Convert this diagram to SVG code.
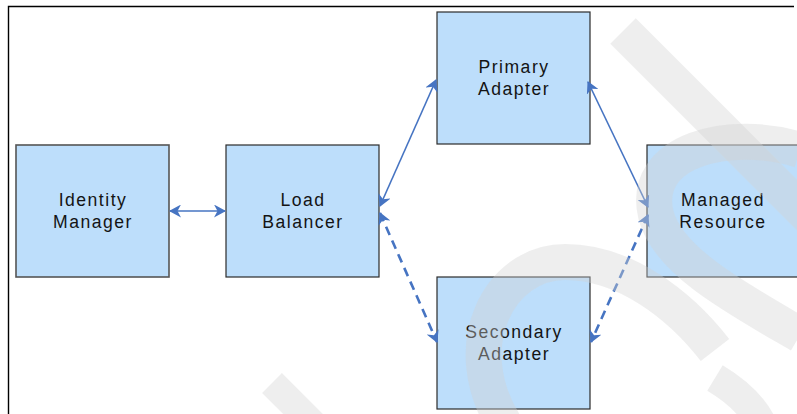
<svg xmlns="http://www.w3.org/2000/svg" width="797" height="414" viewBox="0 0 797 414">
  <style>
    .box { fill: #bddefb; stroke: #2b2b2b; stroke-width: 1.2; }
    .lbl { font-family: "Liberation Sans", Arial, sans-serif; font-size: 17.6px; letter-spacing: 1.5px; fill: #141414; text-anchor: middle; }
    .con { fill: none; stroke: #4674c2; stroke-width: 1.6; marker-start: url(#ah); marker-end: url(#ah); }
    .dash { stroke-width: 2.6; stroke-dasharray: 9 6; }
    .wm { fill: none; stroke: #d2d2d2; stroke-opacity: 0.38; stroke-width: 36; }
  </style>
  <defs>
    <marker id="ah" viewBox="0 0 12 13" refX="11" refY="6.5" markerWidth="12" markerHeight="13" markerUnits="userSpaceOnUse" orient="auto-start-reverse">
      <path d="M0,0 L12,6.5 L0,13 L3.5,6.5 z" fill="#4674c2"/>
    </marker>
  </defs>
  <rect width="797" height="414" fill="#ffffff"/>
  <path d="M8.5,414 L8.5,6.5 L794,6.5" fill="none" stroke="#000" stroke-width="1.4"/>

  <g id="identity-manager">
    <rect class="box" x="16" y="145" width="153" height="132" style="stroke:#555;stroke-width:1.6"/>
    <text class="lbl" x="93" y="206">Identity</text>
    <text class="lbl" x="93" y="228">Manager</text>
  </g>
  <g id="load-balancer">
    <rect class="box" x="226" y="145" width="153" height="132"/>
    <text class="lbl" x="303" y="206">Load</text>
    <text class="lbl" x="303" y="228">Balancer</text>
  </g>
  <g id="primary-adapter">
    <rect class="box" x="437" y="12" width="153" height="132"/>
    <text class="lbl" x="514" y="73">Primary</text>
    <text class="lbl" x="514" y="95">Adapter</text>
  </g>
  <g id="secondary-adapter">
    <rect class="box" x="437" y="277" width="153" height="132"/>
    <text class="lbl" x="514" y="338">Secondary</text>
    <text class="lbl" x="514" y="360">Adapter</text>
  </g>
  <g id="managed-resource">
    <rect class="box" x="647" y="145" width="153" height="132"/>
    <text class="lbl" x="723" y="206">Managed</text>
    <text class="lbl" x="723" y="228">Resource</text>
  </g>

  <g id="connectors">
    <path class="con" d="M170,211 L225,211"/>
    <path class="con" d="M380,206 L436,80"/>
    <path class="con dash" d="M380,213 L437,342"/>
    <path class="con" d="M588,82 L648,207"/>
    <path class="con dash" d="M648,215 L591,342"/>
  </g>

  <g id="watermark">
    <path class="wm" d="M623,31 L812,220"/>
    <path class="wm" d="M800,150 C730,128 640,150 656,215 C668,262 740,300 800,335"/>
    <path class="wm" d="M505,425 C455,345 500,262 565,262 C625,262 680,305 715,350"/>
    <path class="wm" style="stroke-width:30" d="M715,378 C740,393 755,410 762,425"/>
    <path class="wm" style="stroke-width:28" d="M272,383 L325,436"/>
  </g>
</svg>
